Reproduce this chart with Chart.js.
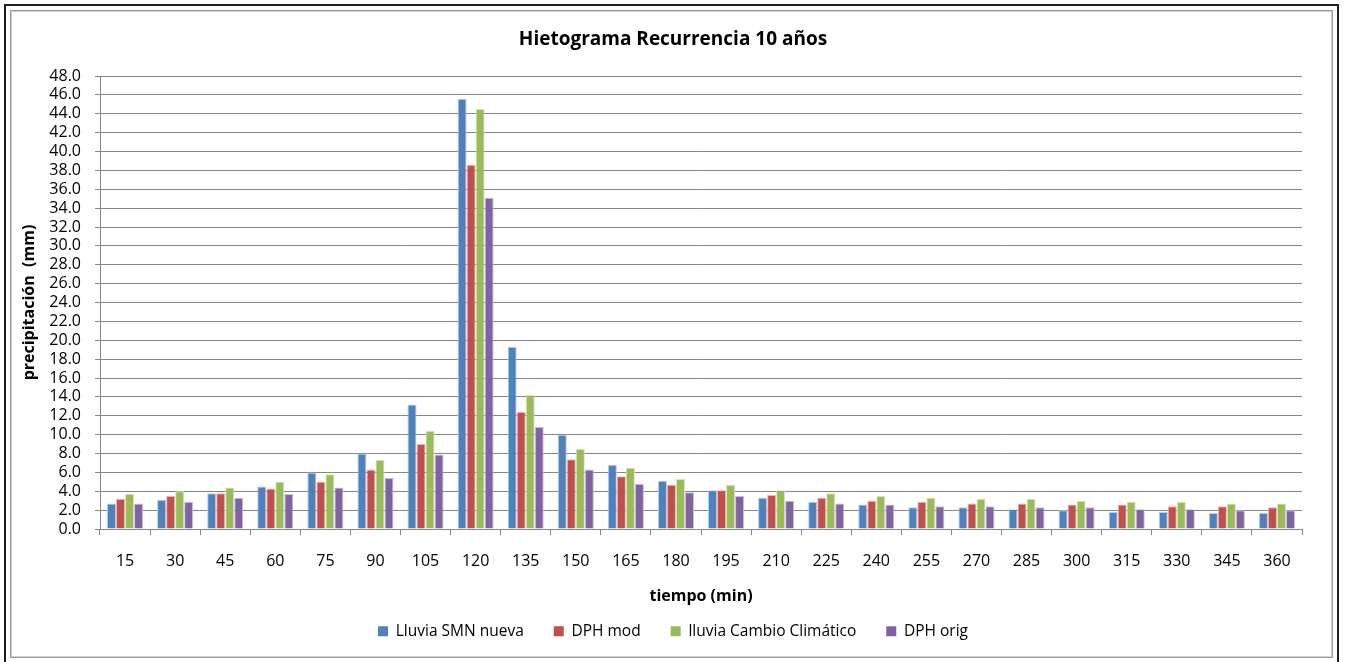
<html>
<head>
<meta charset="utf-8">
<style>
    body { margin: 0; background: #fff; overflow: hidden; }
    #wrap { position: relative; width: 1346px; height: 662px; }
    #hieto { position: absolute; left: 0; top: 0; }
    #frameOuter { position: absolute; left: 4px; top: 4px; width: 1331px; height: 660px; border: 2px solid #1e1e1e; pointer-events: none; }
    #frameInner { position: absolute; left: 10px; top: 10px; width: 1321px; height: 646px; border: 1px solid #9a9a9a; box-shadow: inset 0 0 0 1px #d0d0d0; pointer-events: none; }
</style>
</head>
<body>
<div id="wrap">
    <canvas id="hieto" width="1346" height="662"></canvas>
    <div id="frameOuter"></div>
    <div id="frameInner"></div>
</div>

<script src="https://cdn.jsdelivr.net/npm/chart.js@4.4.0/dist/chart.umd.min.js"></script>
<script>
    // tiempo (min)
    var minutos = ['15','30','45','60','75','90','105','120','135','150','165','180',
                   '195','210','225','240','255','270','285','300','315','330','345','360'];

    // precipitación (mm) por serie
    var lluviaSMN = [2.7, 3.1, 3.8, 4.5, 6.0, 8.0, 13.2, 45.6, 19.3, 10.0, 6.8, 5.1,
                     4.1, 3.3, 2.9, 2.6, 2.3, 2.3, 2.1, 2.0, 1.8, 1.8, 1.7, 1.7];
    var dphMod = [3.2, 3.5, 3.8, 4.3, 5.0, 6.3, 9.0, 38.6, 12.4, 7.4, 5.6, 4.7,
                  4.1, 3.6, 3.3, 3.0, 2.9, 2.7, 2.7, 2.6, 2.6, 2.4, 2.4, 2.3];
    var lluviaCC = [3.7, 4.0, 4.4, 5.0, 5.8, 7.3, 10.4, 44.5, 14.2, 8.5, 6.5, 5.3,
                    4.7, 4.1, 3.8, 3.5, 3.3, 3.2, 3.2, 3.0, 2.9, 2.9, 2.7, 2.7];
    var dphOrig = [2.7, 2.9, 3.3, 3.7, 4.4, 5.4, 7.9, 35.1, 10.8, 6.3, 4.8, 3.9,
                   3.5, 3.0, 2.7, 2.6, 2.4, 2.4, 2.3, 2.3, 2.1, 2.1, 2.0, 2.0];

    var nombres = ['Lluvia SMN nueva', 'DPH mod', 'lluvia Cambio Climático', 'DPH orig'];
    var colores = ['#4f81bd', '#c0504d', '#9bbb59', '#8064a2'];
    var bordes = ['#b9cde5', '#e6b9b8', '#d7e4bd', '#ccc1da'];

    var gris = '#868686';

    function serie(i, datos) {
        return {
            label: nombres[i],
            data: datos,
            backgroundColor: colores[i],
            borderColor: bordes[i],
            borderWidth: 1,
            categoryPercentage: 0.72,
            barPercentage: 1.0
        };
    }

    Chart.defaults.font.family = '"Open Sans", sans-serif';
    Chart.defaults.color = '#000';

    var ctx = document.getElementById('hieto').getContext('2d');
    var chart = new Chart(ctx, {
        type: 'bar',
        data: {
            labels: minutos,
            datasets: [
                serie(0, lluviaSMN),
                serie(1, dphMod),
                serie(2, lluviaCC),
                serie(3, dphOrig)
            ]
        },
        options: {
            responsive: false,
            animation: false,
            devicePixelRatio: 1,
            // same left/right padding so title and legend sit centred on the page
            layout: { padding: { left: 44, right: 44, top: 0, bottom: 13 } },
            plugins: {
                tooltip: { enabled: false },
                title: {
                    display: true,
                    text: 'Hietograma Recurrencia 10 años',
                    font: { size: 19, weight: 'bold' },
                    padding: { top: 28.6, bottom: 24.6 }
                },
                legend: {
                    position: 'bottom',
                    labels: {
                        boxWidth: 10,
                        boxHeight: 10,
                        padding: 30,
                        font: { size: 15.5 },
                        generateLabels: function (c) {
                            // solid legend squares without the pale bar outline
                            return Chart.defaults.plugins.legend.labels.generateLabels(c).map(function (it) {
                                it.lineWidth = 0;
                                return it;
                            });
                        }
                    }
                }
            },
            scales: {
                x: {
                    grid: {
                        display: true,
                        drawOnChartArea: false,
                        drawTicks: true,
                        tickLength: 6,
                        color: gris,
                        offset: true
                    },
                    border: { display: true, color: gris, width: 1 },
                    ticks: { font: { size: 16 }, padding: 17, maxRotation: 0, autoSkip: false },
                    title: {
                        display: true,
                        text: 'tiempo (min)',
                        font: { size: 16, weight: 'bold' },
                        padding: { top: 0, bottom: -13 }
                    },
                    afterFit: function (scale) { scale.height = 64.5; }
                },
                y: {
                    min: 0,
                    max: 48,
                    grid: {
                        color: gris,
                        lineWidth: 1,
                        drawTicks: true,
                        tickLength: 5
                    },
                    border: { display: true, color: gris, width: 1 },
                    ticks: {
                        stepSize: 2,
                        autoSkip: false,
                        padding: 14,
                        font: { size: 16 },
                        callback: function (v) { return v.toFixed(1); }
                    },
                    title: {
                        display: true,
                        text: 'precipitación  (mm)',
                        font: { size: 16, weight: 'bold' },
                        padding: { top: -24, bottom: 0 }
                    },
                    afterFit: function (scale) { scale.width = 56; }
                }
            }
        }
    });
</script>
</body>
</html>
